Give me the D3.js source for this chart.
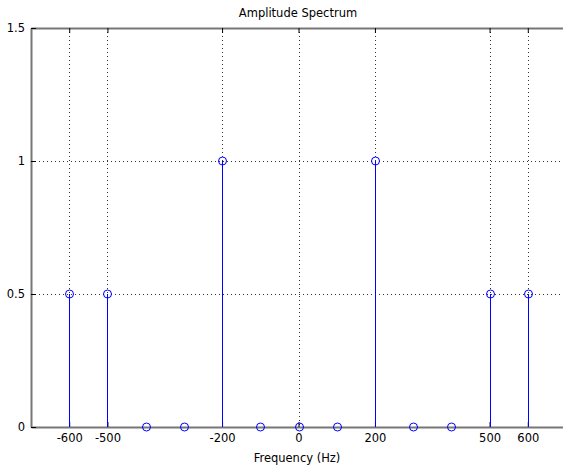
<!DOCTYPE html>
<html>
<head>
<meta charset="utf-8">
<script src="https://cdn.jsdelivr.net/npm/d3@7"></script>
<style>
  body { margin: 0; background: #fff; overflow: hidden; }
  svg { display: block; font-family: "DejaVu Sans", sans-serif; }
</style>
</head>
<body>
<svg id="chart" width="563" height="467"></svg>
<script>
// spectrum data
const freqs = [-600, -500, -400, -300, -200, -100, 0, 100, 200, 300, 400, 500, 600];
const amps = [0.5, 0.5, 0, 0, 1, 0, 0, 0, 1, 0, 0, 0.5, 0.5];
const xTicks = [-600, -500, -200, 0, 200, 500, 600];
const yTicks = [0, 0.5, 1, 1.5];

const svg = d3.select("#chart");
const plotLeft = 31, plotRight = 566, plotTop = 28, plotBottom = 427;
const fontSize = 11.5;

const x = d3.scaleLinear().domain([-700, 700]).range([plotLeft, plotRight]);
const y = d3.scaleLinear().domain([0, 1.5]).range([plotBottom, plotTop]);
const px = v => Math.round(v) + 0.5;

// grid
svg.append("g")
  .selectAll("line")
  .data(xTicks)
  .join("line")
  .attr("x1", d => px(x(d)))
  .attr("x2", d => px(x(d)))
  .attr("y1", plotTop)
  .attr("y2", plotBottom)
  .attr("stroke", "#333")
  .attr("stroke-dasharray", "1,3");

svg.append("g")
  .selectAll("line")
  .data(yTicks.filter(d => d > 0 && d < 1.5))
  .join("line")
  .attr("x1", plotLeft)
  .attr("x2", plotRight)
  .attr("y1", d => px(y(d)))
  .attr("y2", d => px(y(d)))
  .attr("stroke", "#333")
  .attr("stroke-dasharray", "1,3");

// axes, ticks pointing inward
const xAxis = svg.append("g")
  .attr("transform", `translate(0,${plotBottom})`)
  .call(d3.axisBottom(x).tickValues(xTicks).tickSizeInner(-5).tickSizeOuter(0).tickPadding(7).tickFormat(d => String(d)));
const xTop = svg.append("g")
  .attr("transform", `translate(0,${plotTop})`)
  .call(d3.axisTop(x).tickValues(xTicks).tickSizeInner(-5).tickSizeOuter(0).tickFormat(""));
const yAxis = svg.append("g")
  .attr("transform", `translate(${plotLeft},0)`)
  .call(d3.axisLeft(y).tickValues(yTicks).tickSizeInner(-5).tickSizeOuter(0).tickPadding(6).tickFormat(d => String(d)));

[xAxis, xTop, yAxis].forEach(g => {
  g.select(".domain").attr("stroke", "#777").attr("stroke-width", 2);
  g.selectAll(".tick line").attr("stroke", "#000");
  g.selectAll("text").attr("font-size", fontSize).attr("fill", "#000")
    .attr("font-family", "\"DejaVu Sans\", sans-serif");
});

// stems
const pts = freqs.map((f, i) => ({ f, a: amps[i] }));
svg.append("g")
  .selectAll("line")
  .data(pts.filter(d => d.a > 0))
  .join("line")
  .attr("x1", d => px(x(d.f)))
  .attr("x2", d => px(x(d.f)))
  .attr("y1", y(0))
  .attr("y2", d => y(d.a))
  .attr("stroke", "#0000ff")
  .attr("stroke-width", 1)
  .attr("shape-rendering", "crispEdges");

svg.append("g")
  .selectAll("circle")
  .data(pts)
  .join("circle")
  .attr("cx", d => px(x(d.f)))
  .attr("cy", d => y(d.a))
  .attr("r", 4)
  .attr("fill", "none")
  .attr("stroke", "#0000ff")
  .attr("stroke-width", 1);

// labels
svg.append("text")
  .attr("x", 298)
  .attr("y", 17)
  .attr("text-anchor", "middle")
  .attr("font-size", fontSize)
  .text("Amplitude Spectrum");

svg.append("text")
  .attr("x", 297)
  .attr("y", 462)
  .attr("text-anchor", "middle")
  .attr("font-size", fontSize)
  .text("Frequency (Hz)");
</script>
</body>
</html>
